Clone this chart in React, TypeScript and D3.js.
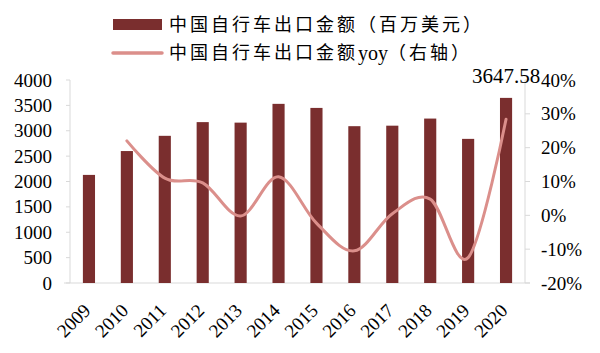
import React from "react";
import * as d3 from "d3";

const years = ["2009", "2010", "2011", "2012", "2013", "2014", "2015", "2016", "2017", "2018", "2019", "2020"];
const exportValue = [2130, 2600, 2900, 3170, 3160, 3530, 3450, 3090, 3100, 3240, 2840, 3647.58];
const exportYoy = [null, 22.0, 11.0, 9.6, -0.2, 11.4, -2.3, -10.5, 0.5, 4.8, -12.5, 28.4];
const leftTicks = [0, 500, 1000, 1500, 2000, 2500, 3000, 3500, 4000];
const rightTicks = [-20, -10, 0, 10, 20, 30, 40];
const legendLabels = ["中国自行车出口金额（百万美元）", "中国自行车出口金额yoy（右轴）"];

const BAR = "#7a2e2e";
const LINE = "#db8f8b";
const AXIS = "#d9d9d9";
const FONT = "'Liberation Serif', 'Times New Roman', 'Noto Sans CJK SC', serif";

// CJK chars get extra spacing, latin runs (like "yoy") stay tight
function LegendText({ label, x, y }: { label: string; x: number; y: number }) {
  const parts = label.split(/([A-Za-z]+)/).filter((s) => s.length > 0);
  return (
    <text x={x} y={y} dominantBaseline="central" fontSize={18} fill="#000">
      {parts.map((p, i) => (
        <tspan key={i} letterSpacing={/^[A-Za-z]+$/.test(p) ? 0 : 3} fontSize={/^[A-Za-z]+$/.test(p) ? 20 : 18}>
          {p}
        </tspan>
      ))}
    </text>
  );
}

export default function App() {
  const width = 600;
  const height = 353;
  const margin = { top: 80, right: 75, bottom: 70, left: 70 };
  const plotBottom = height - margin.bottom; // 283
  const plotRight = width - margin.right; // 525

  const x = d3.scaleBand<string>().domain(years).range([margin.left, plotRight]).paddingInner(0.68).paddingOuter(0.34);
  const yL = d3.scaleLinear().domain([0, 4000]).range([plotBottom, margin.top]);
  const yR = d3.scaleLinear().domain([-20, 40]).range([plotBottom, margin.top]);
  const cx = (y: string) => (x(y) as number) + x.bandwidth() / 2;

  const linePts = years
    .map((y, i) => ({ y, v: exportYoy[i] }))
    .filter((d) => d.v !== null) as { y: string; v: number }[];
  const line = d3
    .line<{ y: string; v: number }>()
    .x((d) => cx(d.y))
    .y((d) => yR(d.v))
    .curve(d3.curveCardinal.tension(0));

  const last = years.length - 1;

  return (
    <svg width={width} height={height} style={{ position: "absolute", left: 0, top: 0 }} fontFamily={FONT}>
      <rect width={width} height={height} fill="#fff" />

      {/* legend */}
      <rect x={113} y={19} width={49} height={11} fill={BAR} />
      <LegendText label={legendLabels[0]} x={169} y={25} />
      <line x1={113} x2={162} y1={53} y2={53} stroke={LINE} strokeWidth={3.5} strokeLinecap="round" />
      <LegendText label={legendLabels[1]} x={169} y={53} />

      {/* axes */}
      <line x1={margin.left} x2={margin.left} y1={margin.top} y2={plotBottom} stroke={AXIS} />
      <line x1={plotRight} x2={plotRight} y1={margin.top} y2={plotBottom} stroke={AXIS} />
      <line x1={64} x2={530} y1={plotBottom} y2={plotBottom} stroke={AXIS} />
      {leftTicks.map((t) => (
        <g key={"l" + t}>
          <line x1={margin.left - 4} x2={margin.left} y1={yL(t)} y2={yL(t)} stroke={AXIS} />
          <text x={52} y={yL(t) + 6.5} textAnchor="end" fontSize={19} fill="#000">
            {t}
          </text>
        </g>
      ))}
      {rightTicks.map((t) => (
        <g key={"r" + t}>
          <line x1={plotRight} x2={plotRight + 5} y1={yR(t)} y2={yR(t)} stroke={AXIS} />
          <text x={541} y={yR(t) + 6.5} textAnchor="start" fontSize={19} fill="#000">
            {t + "%"}
          </text>
        </g>
      ))}

      {/* bars */}
      {years.map((y, i) => (
        <rect key={y} x={x(y)} y={yL(exportValue[i])} width={x.bandwidth()} height={plotBottom - yL(exportValue[i])} fill={BAR} />
      ))}

      {/* yoy line */}
      <path d={line(linePts) || ""} fill="none" stroke={LINE} strokeWidth={3} strokeLinecap="round" />

      {/* last value label */}
      <text x={cx(years[last])} y={83} textAnchor="middle" fontSize={21} fill="#000">
        {exportValue[last]}
      </text>

      {/* x labels */}
      {years.map((y) => (
        <text key={"x" + y} transform={`translate(${cx(y) - 2},${plotBottom + 24}) rotate(-45)`} textAnchor="end" dy="0.35em" fontSize={19} fill="#000">
          {y}
        </text>
      ))}
    </svg>
  );
}
